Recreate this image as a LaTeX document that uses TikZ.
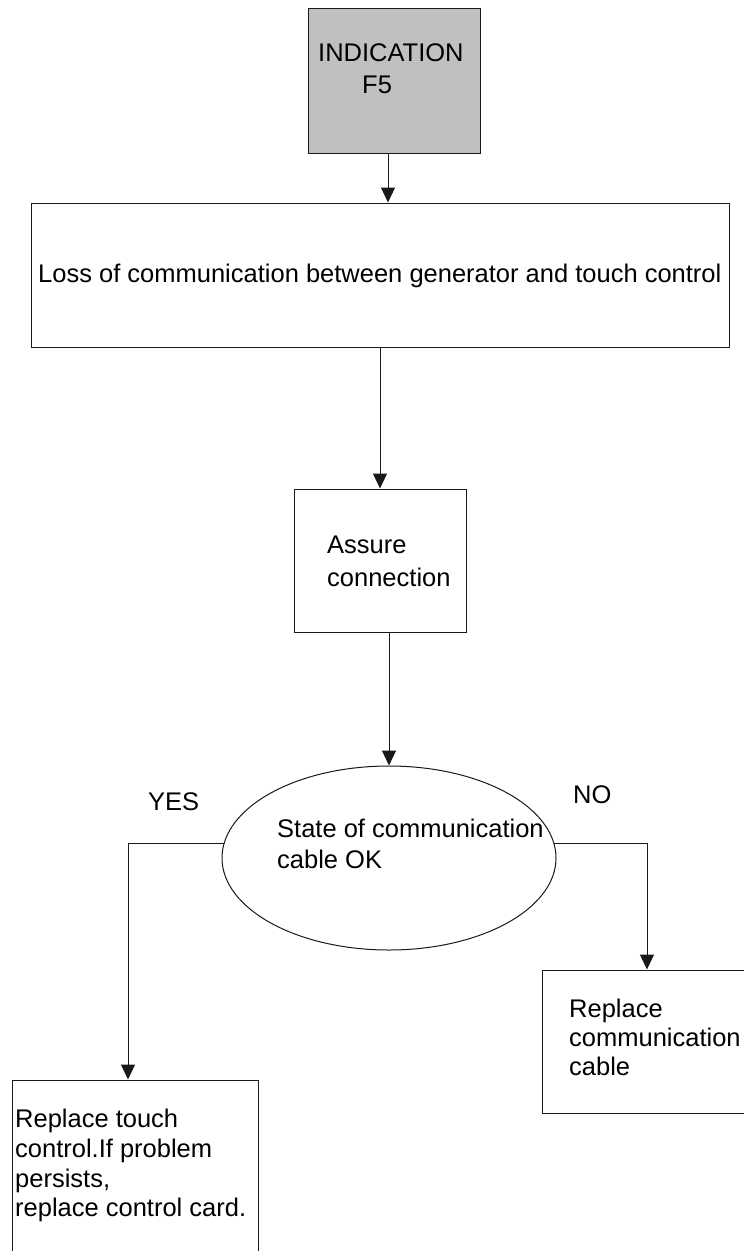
\documentclass[tikz,border=0pt]{standalone}
\usepackage{fontspec}
\setmainfont{Liberation Sans}
\usetikzlibrary{arrows.meta,shapes.geometric,calc}
\definecolor{boxgray}{HTML}{C0C0C0}
\tikzset{
  box/.style={draw=black!90, line width=1pt, rectangle, inner sep=0pt},
  oval/.style={draw=black!90, line width=1pt, ellipse, inner sep=0pt},
  txt/.style={anchor=base west, inner sep=0pt, font=\fontsize{25.5}{29.5}\selectfont},
  arr/.style={draw=black!90, line width=1pt, -{Triangle[width=14pt,length=15pt]}},
}
\begin{document}
\begin{tikzpicture}[x=1pt,y=-1pt]
\useasboundingbox (0,0) rectangle (744,1251);
\clip (0,0) rectangle (744,1251);
\fill[white] (0,0) rectangle (744,1251);
% boxes
\node[box, fill=boxgray, minimum width=172pt, minimum height=145pt] (ind) at (394,80.5) {};
\node[box, minimum width=698pt, minimum height=144pt] (loss) at (380,275) {};
\node[box, minimum width=172pt, minimum height=143pt] (assure) at (380,560.5) {};
\node[oval, minimum width=334pt, minimum height=184pt] (state) at (389,858) {};
\node[box, minimum width=246pt, minimum height=180pt] (yesbox) at (135,1170) {};
\node[box, minimum width=208pt, minimum height=143pt] (nobox) at (646,1041.5) {};
% texts
\node[txt] (t1a) at (318,61) {INDICATION};
\node[txt] (t1b) at (362,93) {F5};
\node[txt] (t2) at (38,282) {Loss of communication between generator and touch control};
\node[txt] (t3a) at (327,553) {Assure};
\node[txt] (t3b) at (327,586) {connection};
\node[txt] (t4a) at (277,837) {State of communication};
\node[txt] (t4b) at (277,868) {cable OK};
\node[txt] (yes) at (148,810) {YES};
\node[txt] (no) at (573,803) {NO};
\node[txt] (t5a) at (15,1127) {Replace touch};
\node[txt] (t5b) at (15,1157) {control.If problem};
\node[txt] (t5c) at (15,1187) {persists,};
\node[txt] (t5d) at (15,1216) {replace control card.};
\node[txt] (t6a) at (569,1017) {Replace};
\node[txt] (t6b) at (569,1046) {communication};
\node[txt] (t6c) at (569,1075) {cable};
% connectors
\draw[arr] ([xshift=-6pt]ind.south) -- ([xshift=-6pt]ind.south |- loss.north);
\draw[arr] (loss.south) -- (assure.north);
\draw[arr] (state.north |- assure.south) -- (state.north);
\draw[arr] (state.175) -| ([xshift=-7pt]yesbox.north);
\draw[arr] (state.5) -| ([xshift=1pt]nobox.north);
\end{tikzpicture}
\end{document}
